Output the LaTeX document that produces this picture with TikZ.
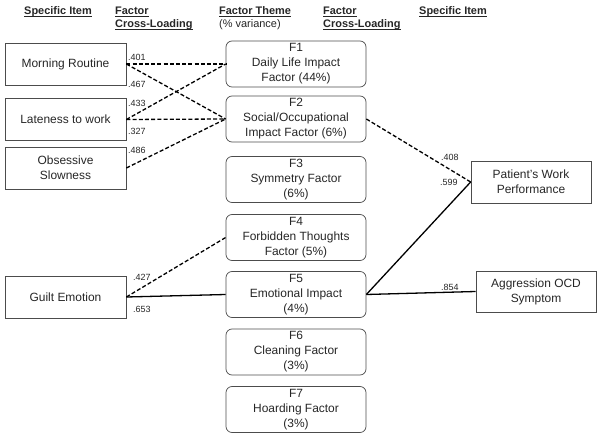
\documentclass[tikz,border=0pt]{standalone}
\usepackage{fontspec}
\setmainfont{Liberation Sans}
\newcommand{\myul}[1]{\setbox0\hbox{#1}\rlap{\rule[-1.6bp]{\wd0}{0.8bp}}\box0}
\begin{document}
\begin{tikzpicture}[x=1bp,y=-1bp,
  box/.style={draw=black!70, line width=0.7bp, minimum width=121bp, minimum height=42bp,
    align=center, inner sep=0pt, text=black!85, font=\fontsize{12}{15}\selectfont},
  fbox/.style={box, rounded corners=6bp, minimum width=140bp, minimum height=46bp},
  rbox/.style={box, minimum width=120bp},
  head/.style={anchor=base west, inner sep=0pt, text=black!85, font=\fontsize{11}{12}\selectfont},
  load/.style={anchor=west, inner sep=0pt, text=black!85, font=\fontsize{9}{10}\selectfont},
  dline/.style={line width=1.3bp, dash pattern=on 4bp off 2.2bp},
  sline/.style={line width=1.3bp}
]
\useasboundingbox (0,0) rectangle (602,439);
% headers
\node[head] (h1) at (24,15) {\myul{\textbf{Specific Item}}};
\node[head] (h2a) at (115,15) {\myul{\textbf{Factor}}};
\node[head] (h2b) at (115,28) {\myul{\textbf{Cross-Loading}}};
\node[head] (h3a) at (219,15) {\myul{\textbf{Factor Theme}}};
\node[head] (h3b) at (219,28) {(\% variance)};
\node[head] (h4a) at (323,15) {\myul{\textbf{Factor}}};
\node[head] (h4b) at (323,28) {\myul{\textbf{Cross-Loading}}};
\node[head] (h5) at (419,15) {\myul{\textbf{Specific Item}}};
% left items
\node[box] (mr) at (65.5,64) {Morning Routine};
\node[box] (lw) at (65.5,119.5) {Lateness to work};
\node[box] (os) at (65.5,168) {Obsessive\\Slowness};
\node[box] (ge) at (65.5,297) {Guilt Emotion};
% factors
\node[fbox] (f1) at (296,64) {F1\\Daily Life Impact\\Factor (44\%)};
\node[fbox] (f2) at (296,119) {F2\\Social/Occupational\\Impact Factor (6\%)};
\node[fbox] (f3) at (296,179.5) {F3\\Symmetry Factor\\(6\%)};
\node[fbox] (f4) at (296,237.5) {F4\\Forbidden Thoughts\\Factor (5\%)};
\node[fbox] (f5) at (296,294.5) {F5\\Emotional Impact\\(4\%)};
\node[fbox] (f6) at (296,352) {F6\\Cleaning Factor\\(3\%)};
\node[fbox] (f7) at (296,409.5) {F7\\Hoarding Factor\\(3\%)};
% right items
\node[rbox] (pw) at (531,182) {Patient's Work\\Performance};
\node[rbox, minimum height=41bp] (ag) at (536,291.5) {Aggression OCD\\Symptom};
% connectors
\draw[dline] (mr.east) -- (f1.west);
\draw[dline] (mr.east) -- (f2.west);
\draw[dline] (lw.east) -- (f1.west);
\draw[dline] (lw.east) -- (f2.west);
\draw[dline] (os.east) -- (f2.west);
\draw[dline] (ge.east) -- (f4.west);
\draw[sline] (ge.east) -- (f5.west);
\draw[dline] (f2.east) -- (pw.west);
\draw[sline] (f5.east) -- (pw.west);
\draw[sline] (f5.east) -- (ag.west);
% loadings
\node[load] (l1) at (128,57.5) {.401};
\node[load] (l2) at (128,84) {.467};
\node[load] (l3) at (128,103.5) {.433};
\node[load] (l4) at (128,131) {.327};
\node[load] (l5) at (128,150.5) {.486};
\node[load] (l6) at (133,277) {.427};
\node[load] (l7) at (133,309.5) {.653};
\node[load] (l8) at (441,157.5) {.408};
\node[load] (l9) at (440,182.5) {.599};
\node[load] (l10) at (441,287.5) {.854};
\end{tikzpicture}
\end{document}
